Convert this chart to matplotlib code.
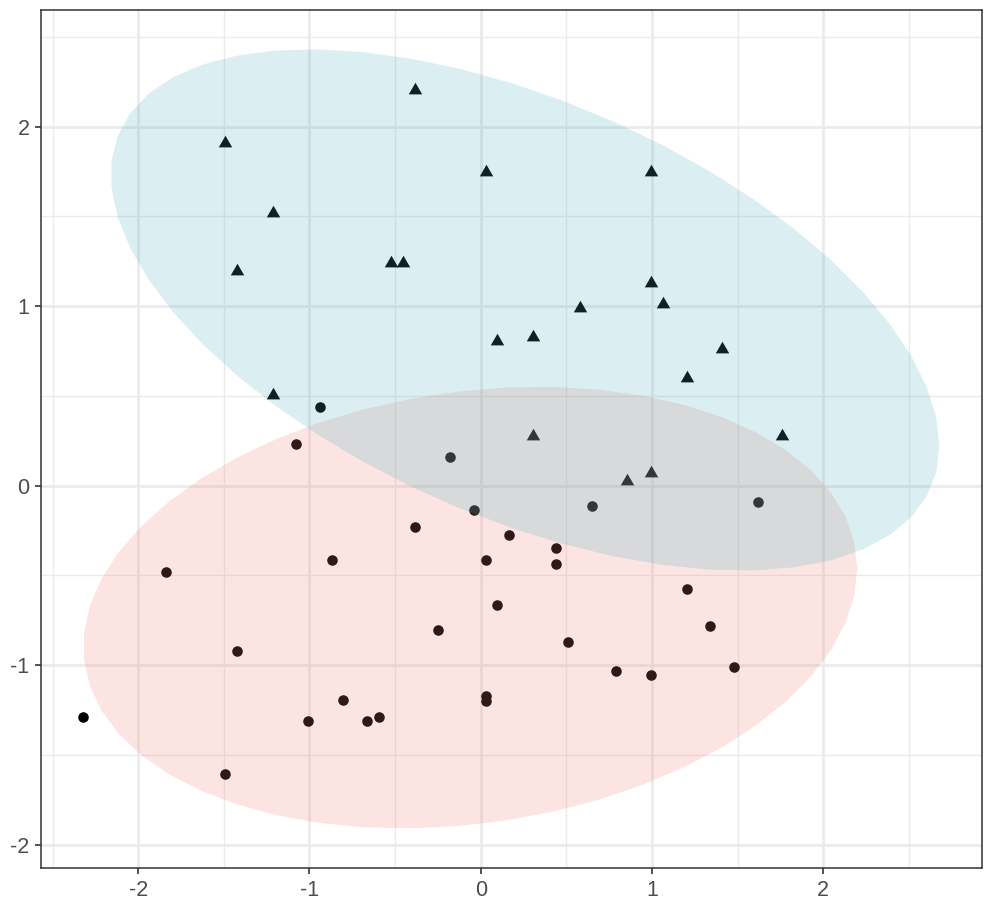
import numpy as np
import matplotlib
matplotlib.use("Agg")
import matplotlib.pyplot as plt
from matplotlib.path import Path

# ---- data ----
circle_x = [-0.939, -1.077, -0.178, -0.041, 0.652, 1.618, -0.386, 0.167, 0.442, 0.442,
            0.029, -0.869, -1.838, 0.095, 1.203, -0.248, 1.341, 0.512, -1.424, 0.788,
            0.995, 1.480, -0.802, 0.029, 0.029, -1.007, -0.662, -0.592, -2.321, -1.492]
circle_y = [0.435, 0.229, 0.160, -0.138, -0.114, -0.092, -0.229, -0.276, -0.346, -0.437,
            -0.415, -0.415, -0.484, -0.667, -0.575, -0.805, -0.781, -0.874, -0.920, -1.033,
            -1.058, -1.011, -1.195, -1.173, -1.199, -1.310, -1.310, -1.288, -1.288, -1.609]

tri_x = [-0.386, -1.494, 0.029, 0.997, -1.215, -1.424, -0.526, -0.454, 0.997, 1.065,
         0.582, 0.096, 0.307, 1.411, 1.203, -1.215, 0.307, 1.758, 0.857, 0.997]
tri_y = [2.205, 1.907, 1.746, 1.746, 1.516, 1.197, 1.239, 1.239, 1.127, 1.010,
         0.988, 0.804, 0.829, 0.760, 0.598, 0.506, 0.275, 0.275, 0.023, 0.068]

# ellipse parameters: centre (x, y) and shape matrix entries [sxx, sxy, syy]
red_center = [-0.061, -0.680]
red_shape = [2.260 ** 2, 0.49, 1.230 ** 2]
blue_center = [0.259, 0.978]
blue_shape = [2.420 ** 2, -1.83, 1.452 ** 2]

x_ticks = [-2, -1, 0, 1, 2]
y_ticks = [-2, -1, 0, 1, 2]
x_minor = [-2.5, -1.5, -0.5, 0.5, 1.5, 2.5]
y_minor = [-1.5, -0.5, 0.5, 1.5, 2.5]

# ---- figure ----
W, H, DPI = 1002, 908, 100
fig = plt.figure(figsize=(W / DPI, H / DPI), dpi=DPI)
ax = fig.add_axes([41 / W, (H - 867.7) / H, 940.7 / W, 857.7 / H])

ax.set_xlim(-2.568, 2.926)
ax.set_ylim(-2.129, 2.649)

# grid
for v in x_minor:
    ax.axvline(v, color="#EBEBEB", lw=1.0, zorder=0)
for v in y_minor:
    ax.axhline(v, color="#EBEBEB", lw=1.0, zorder=0)
for v in x_ticks:
    ax.axvline(v, color="#EBEBEB", lw=2.0, zorder=0.5)
for v in y_ticks:
    ax.axhline(v, color="#EBEBEB", lw=2.0, zorder=0.5)

# points (black, drawn beneath the translucent ellipses)
ax.scatter(circle_x, circle_y, s=7.6 ** 2, marker="o", color="black",
           linewidths=0, zorder=2)
tri_marker = Path([(0, 1), (-0.866, -0.5), (0.866, -0.5), (0, 1)],
                  [Path.MOVETO, Path.LINETO, Path.LINETO, Path.CLOSEPOLY])
ax.scatter(tri_x, tri_y, s=11.2 ** 2, marker=tri_marker, color="black",
           linewidths=0, zorder=2)


def ellipse_pts(center, shape, n=52):
    S = np.array([[shape[0], shape[1]], [shape[1], shape[2]]])
    L = np.linalg.cholesky(S)
    t = np.linspace(0, 2 * np.pi, n)
    unit = np.vstack([np.cos(t), np.sin(t)])
    pts = L @ unit
    return pts[0] + center[0], pts[1] + center[1]


ex, ey = ellipse_pts(red_center, red_shape)
ax.fill(ex, ey, color="#EE7A70", alpha=0.2, lw=0, zorder=3)
ex, ey = ellipse_pts(blue_center, blue_shape)
ax.fill(ex, ey, color="#4BAFBE", alpha=0.2, lw=0, zorder=4)

# axes styling
ax.set_xticks(x_ticks)
ax.set_yticks(y_ticks)
ax.set_xticklabels([str(v) for v in x_ticks])
ax.set_yticklabels([str(v) for v in y_ticks])
ax.tick_params(axis="both", length=4.3, width=1.2, color="#333333",
               labelcolor="#4D4D4D", labelsize=15.5)
ax.tick_params(axis="x", pad=4.5)
ax.tick_params(axis="y", pad=4.0)
for lab in ax.get_xticklabels() + ax.get_yticklabels():
    lab.set_fontfamily("Liberation Sans")
for sp in ax.spines.values():
    sp.set_color("#333333")
    sp.set_linewidth(1.1)
    sp.set_zorder(6)

fig.savefig("out.png", dpi=DPI, facecolor="white")
